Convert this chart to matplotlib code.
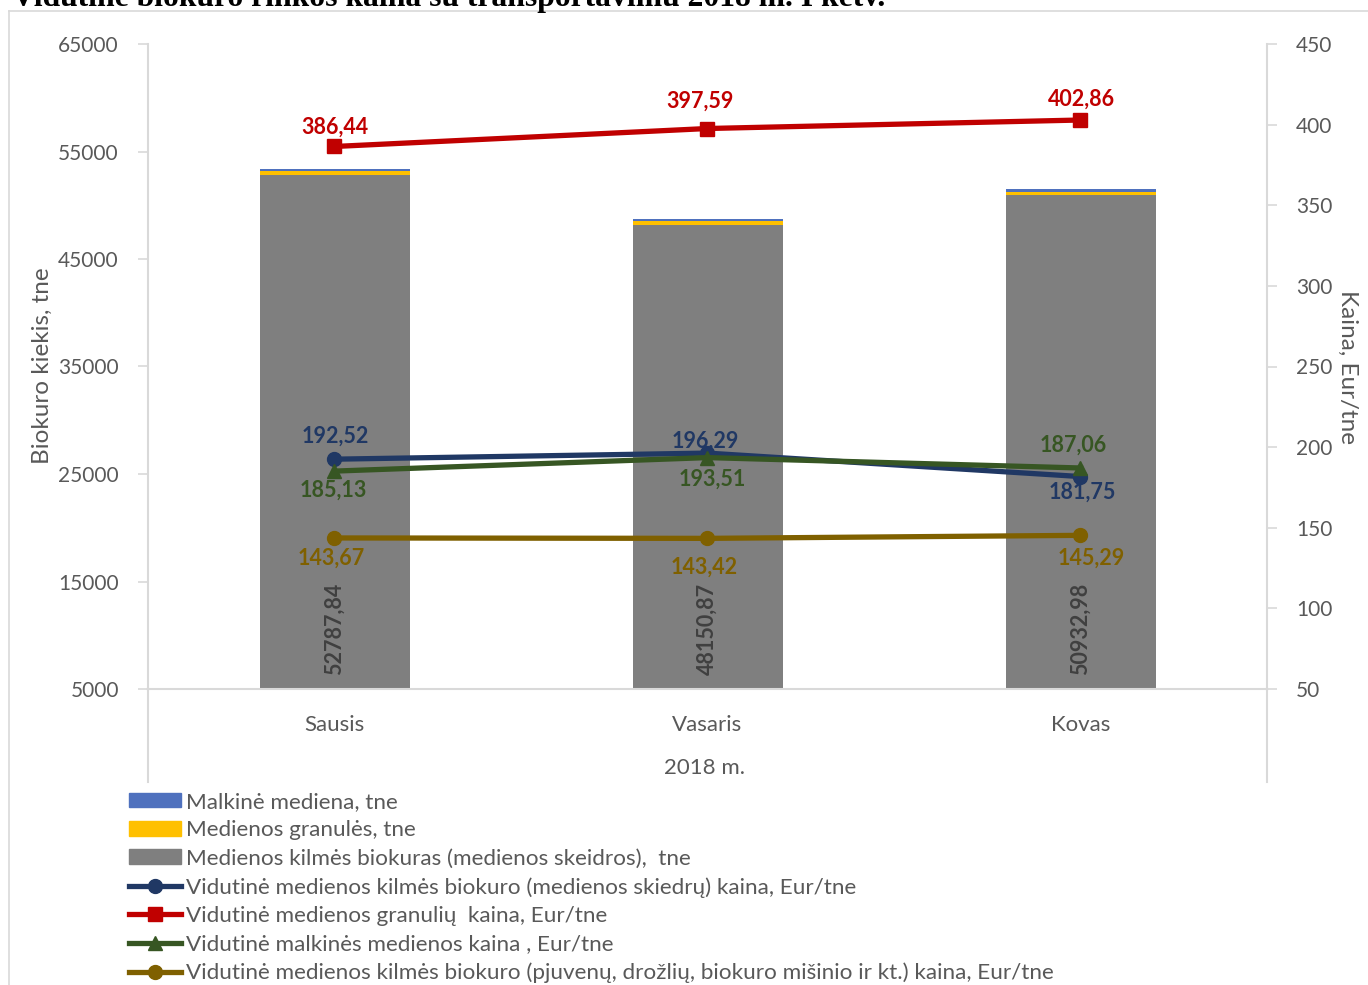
import matplotlib.pyplot as plt
from matplotlib.lines import Line2D
from matplotlib.patches import Patch

plt.rcParams['font.family'] = ['Lato', 'DejaVu Sans']

# Data
months = ["Sausis", "Vasaris", "Kovas"]
skiedros_t = [52787.84, 48150.87, 50932.98]   # gray bars
granules_t = [380, 350, 330]                  # yellow slivers (estimated)
malkos_t = [250, 240, 220]                    # blue slivers (estimated)

kaina_skiedros = [192.52, 196.29, 181.75]
kaina_granules = [386.44, 397.59, 402.86]
kaina_malkos = [185.13, 193.51, 187.06]
kaina_pjuvenos = [143.67, 143.42, 145.29]

W, H = 1368, 985
fig = plt.figure(figsize=(W / 100, H / 100), dpi=100)
ax = fig.add_axes([148 / W, 1 - 689 / H, (1267 - 148) / W, (689 - 44) / H])
ax2 = ax.twinx()

grid_c = "#d9d9d9"
txt_c = "#595959"
x = range(len(months))
bw = 150 / 373

# stacked bars
ax.bar(x, skiedros_t, width=bw, color="#7f7f7f", zorder=2)
bot2 = [s for s in skiedros_t]
ax.bar(x, granules_t, width=bw, bottom=bot2, color="#ffc000", zorder=2)
bot3 = [s + g for s, g in zip(skiedros_t, granules_t)]
ax.bar(x, malkos_t, width=bw, bottom=bot3, color="#4f71be", zorder=2)

for i, v in enumerate(skiedros_t):
    ax.text(i, 6300, f"{v:.2f}".replace(".", ","), rotation=90, ha="center",
            va="bottom", fontsize=15.5, fontweight="bold", color="#404040")

ax.set_xlim(-0.5, 2.5)
ax.set_ylim(5000, 65000)
ax.set_yticks(range(5000, 65001, 10000))
ax.set_xticks(list(x))
ax.set_xticklabels(months)
ax.tick_params(axis="x", length=0, pad=19, labelsize=16, labelcolor=txt_c)
ax.tick_params(axis="y", length=7, width=1.2, color=grid_c, labelsize=15,
               labelcolor=txt_c, pad=14)
for s in ["top", "right"]:
    ax.spines[s].set_visible(False)
for s in ["left", "bottom"]:
    ax.spines[s].set_color(grid_c)
    ax.spines[s].set_linewidth(1.5)

# price lines
series = [
    (kaina_skiedros, "#203864", "o", 10),
    (kaina_granules, "#c00000", "s", 10),
    (kaina_malkos, "#375623", "^", 10),
    (kaina_pjuvenos, "#7f6000", "o", 10),
]
for vals, c, m, ms in series:
    ax2.plot(list(x), vals, color=c, lw=3.8, marker=m, markersize=ms, zorder=3)

# label offsets in pixels (dx, dy), upward positive; per month, per series
offs = {
    0: [(1, 23), (0, 19), (-1, -19), (-3, -20)],
    1: [(-2, 12), (-7, 27), (5, -22), (-3, -29)],
    2: [(2, -16), (1, 21), (-7, 23), (11, -23)],
}
for j, (vals, c, m, ms) in enumerate(series):
    for i, v in enumerate(vals):
        dx, dy = offs[i][j]
        ax2.annotate(f"{v:.2f}".replace(".", ","), (i, v), xytext=(dx * 0.72, dy * 0.72),
                     textcoords="offset points", ha="center", va="center",
                     fontsize=15.5, fontweight="bold", color=c, zorder=4)

ax2.set_ylim(50, 450)
ax2.set_yticks(range(50, 451, 50))
ax2.tick_params(axis="y", length=7, width=1.2, color=grid_c, labelsize=15,
                labelcolor=txt_c, pad=14)
for s in ["top", "left", "bottom"]:
    ax2.spines[s].set_visible(False)
ax2.spines["right"].set_color(grid_c)
ax2.spines["right"].set_linewidth(1.5)

# axis titles
fig.text(42 / W, 1 - 366 / H, "Biokuro kiekis, tne", rotation=90, ha="center",
         va="center", fontsize=17.5, color=txt_c)
fig.text(1348 / W, 1 - 367 / H, "Kaina, Eur/tne", rotation=270, ha="center",
         va="center", fontsize=17.5, color=txt_c)
fig.text(705 / W, 1 - 768 / H, "2018 m.", ha="center", va="center",
         fontsize=16, color=txt_c)

# multi-level category dividers and chart border
for xp in (148, 1267):
    fig.add_artist(Line2D([xp / W, xp / W], [1 - 689 / H, 1 - 782 / H],
                          color=grid_c, lw=1.5))
fig.add_artist(Line2D([9 / W, 1], [1 - 11 / H, 1 - 11 / H], color=grid_c, lw=1.2))
fig.add_artist(Line2D([9 / W, 9 / W], [1 - 11 / H, 0], color=grid_c, lw=1.2))

# title (partly clipped at top, as in the source)
fig.text(12 / W, 1 - 6 / H,
         "Vidutinė biokuro rinkos kaina su transportavimu 2018 m. I ketv.",
         family="Liberation Serif", fontweight="bold", fontsize=22.8,
         ha="left", va="baseline", color="black")

# legend
handles = [
    Patch(color="#4f71be"),
    Patch(color="#ffc000"),
    Patch(color="#7f7f7f"),
    Line2D([], [], color="#203864", lw=3.8, marker="o", markersize=10),
    Line2D([], [], color="#c00000", lw=3.8, marker="s", markersize=10),
    Line2D([], [], color="#375623", lw=3.8, marker="^", markersize=10),
    Line2D([], [], color="#7f6000", lw=3.8, marker="o", markersize=10),
]
labels = [
    "Malkinė mediena, tne",
    "Medienos granulės, tne",
    "Medienos kilmės biokuras (medienos skeidros),  tne",
    "Vidutinė medienos kilmės biokuro (medienos skiedrų) kaina, Eur/tne",
    "Vidutinė medienos granulių  kaina, Eur/tne",
    "Vidutinė malkinės medienos kaina , Eur/tne",
    "Vidutinė medienos kilmės biokuro (pjuvenų, drožlių, biokuro mišinio ir kt.) kaina, Eur/tne",
]
leg = fig.legend(handles, labels, loc="upper left",
                 bbox_to_anchor=(129 / W, 1 - 792 / H), frameon=False,
                 fontsize=16.2, handlelength=2.3, handleheight=0.62,
                 handletextpad=0.22, labelspacing=0.37, borderaxespad=0,
                 borderpad=0)
for t in leg.get_texts():
    t.set_color(txt_c)

fig.savefig("out.png", dpi=100)
